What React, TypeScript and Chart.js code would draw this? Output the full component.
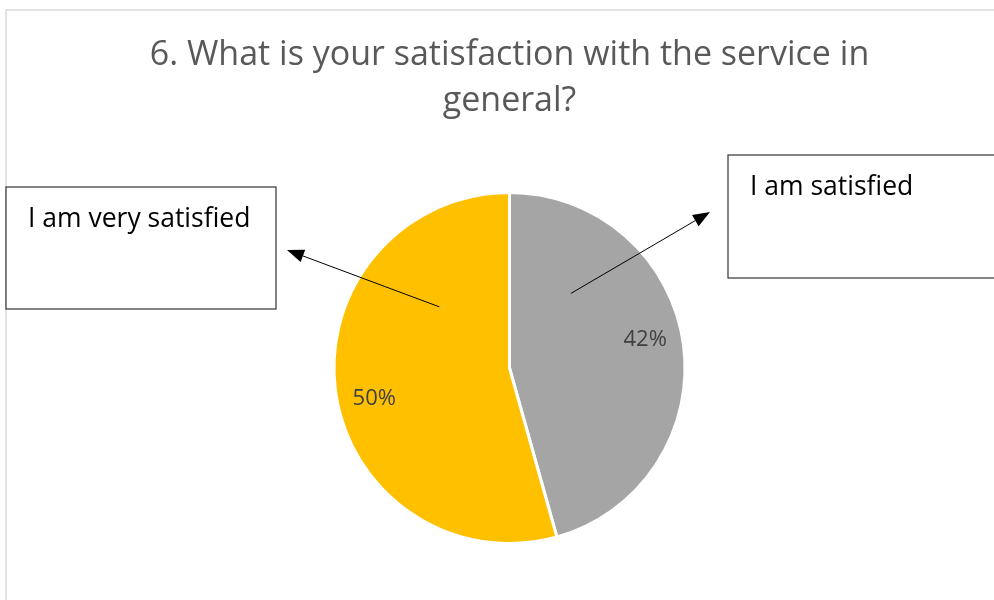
import React, { useEffect, useRef } from "react";
import { Chart, registerables } from "chart.js";

Chart.register(...registerables);

// ---- data ----
const titleLines = ["6. What is your satisfaction with the service in", "general?"];
const categories = ["I am satisfied", "I am very satisfied"];
const values = [42, 50];
const valueLabels = ["42%", "50%"];
const sliceColors = ["#A5A5A5", "#FFC000"];

// ---- styling / layout ----
const FONT = "'Open Sans', 'DejaVu Sans', sans-serif";
const LABEL_T = 0.475; // fraction along slice angle for value label
const LABEL_R = 0.79; // fraction of radius for value label

const callouts = [
  { box: { x: 728, y: 155, w: 300, h: 123 }, textX: 750, textY: 195, tip: { x: 710, y: 212 }, anchorT: 0.24, anchorR: 0.55 },
  { box: { x: 6, y: 187, w: 270, h: 122 }, textX: 28, textY: 227, tip: { x: 287, y: 250 }, anchorT: 0.75, anchorR: 0.53 },
];

function drawArrow(ctx: CanvasRenderingContext2D, x1: number, y1: number, x2: number, y2: number) {
  const ang = Math.atan2(y2 - y1, x2 - x1);
  const headLen = 17;
  const headHalf = 6.5;
  const bx = x2 - Math.cos(ang) * headLen;
  const by = y2 - Math.sin(ang) * headLen;
  ctx.save();
  ctx.strokeStyle = "#000";
  ctx.fillStyle = "#000";
  ctx.lineWidth = 1;
  ctx.beginPath();
  ctx.moveTo(x1, y1);
  ctx.lineTo(bx, by);
  ctx.stroke();
  ctx.beginPath();
  ctx.moveTo(x2, y2);
  ctx.lineTo(bx + Math.sin(ang) * headHalf, by - Math.cos(ang) * headHalf);
  ctx.lineTo(bx - Math.sin(ang) * headHalf, by + Math.cos(ang) * headHalf);
  ctx.closePath();
  ctx.fill();
  ctx.restore();
}

const decorPlugin = {
  id: "decor",
  beforeDraw(chart: any) {
    const ctx: CanvasRenderingContext2D = chart.ctx;
    ctx.save();
    ctx.fillStyle = "#fff";
    ctx.fillRect(0, 0, chart.width, chart.height);
    ctx.strokeStyle = "#D9D9D9";
    ctx.lineWidth = 1.5;
    ctx.beginPath();
    ctx.moveTo(6, chart.height + 5);
    ctx.lineTo(6, 10);
    ctx.lineTo(chart.width + 5, 10);
    ctx.stroke();
    ctx.restore();
  },
  afterDatasetsDraw(chart: any) {
    const ctx: CanvasRenderingContext2D = chart.ctx;
    const meta = chart.getDatasetMeta(0);
    ctx.save();
    // value labels
    ctx.font = `22px ${FONT}`;
    ctx.fillStyle = "#404040";
    ctx.textAlign = "center";
    ctx.textBaseline = "middle";
    meta.data.forEach((arc: any, i: number) => {
      const p = arc.getProps(["x", "y", "startAngle", "endAngle", "outerRadius"], true);
      const a = p.startAngle + (p.endAngle - p.startAngle) * LABEL_T;
      const r = p.outerRadius * LABEL_R;
      ctx.fillText(valueLabels[i], p.x + Math.cos(a) * r, p.y + Math.sin(a) * r);
    });
    // callout boxes
    callouts.forEach((c, i) => {
      ctx.fillStyle = "#fff";
      ctx.fillRect(c.box.x, c.box.y, c.box.w, c.box.h);
      ctx.strokeStyle = "#3A3A3A";
      ctx.lineWidth = 1.25;
      ctx.strokeRect(c.box.x, c.box.y, c.box.w, c.box.h);
      ctx.fillStyle = "#000";
      ctx.font = `26.5px ${FONT}`;
      ctx.textAlign = "left";
      ctx.textBaseline = "alphabetic";
      ctx.fillText(categories[i], c.textX, c.textY);
      const arc = meta.data[i];
      const p = arc.getProps(["x", "y", "startAngle", "endAngle", "outerRadius"], true);
      const a = p.startAngle + (p.endAngle - p.startAngle) * c.anchorT;
      const r = p.outerRadius * c.anchorR;
      drawArrow(ctx, p.x + Math.cos(a) * r, p.y + Math.sin(a) * r, c.tip.x, c.tip.y);
    });
    ctx.restore();
  },
};

export default function App() {
  const ref = useRef<HTMLCanvasElement>(null);
  useEffect(() => {
    const chart = new Chart(ref.current as HTMLCanvasElement, {
      type: "pie",
      data: {
        labels: categories,
        datasets: [
          {
            data: values,
            backgroundColor: sliceColors,
            borderColor: "#ffffff",
            borderWidth: 3,
            hoverOffset: 0,
          },
        ],
      },
      options: {
        responsive: false,
        animation: false,
        layout: { padding: { left: 25, right: 0, top: 0, bottom: 55 } },
        plugins: {
          legend: { display: false },
          tooltip: { enabled: false },
          title: {
            display: true,
            text: titleLines,
            color: "#595959",
            font: { family: FONT, size: 34, weight: "normal", lineHeight: "46px" },
            padding: { top: 32, bottom: 67 },
          },
        },
      },
      plugins: [decorPlugin],
    } as any);
    return () => chart.destroy();
  }, []);
  return (
    <div style={{ position: "fixed", left: 0, top: 0, width: 994, height: 600, background: "#fff" }}>
      <canvas ref={ref} width={994} height={600} style={{ display: "block" }} />
    </div>
  );
}
